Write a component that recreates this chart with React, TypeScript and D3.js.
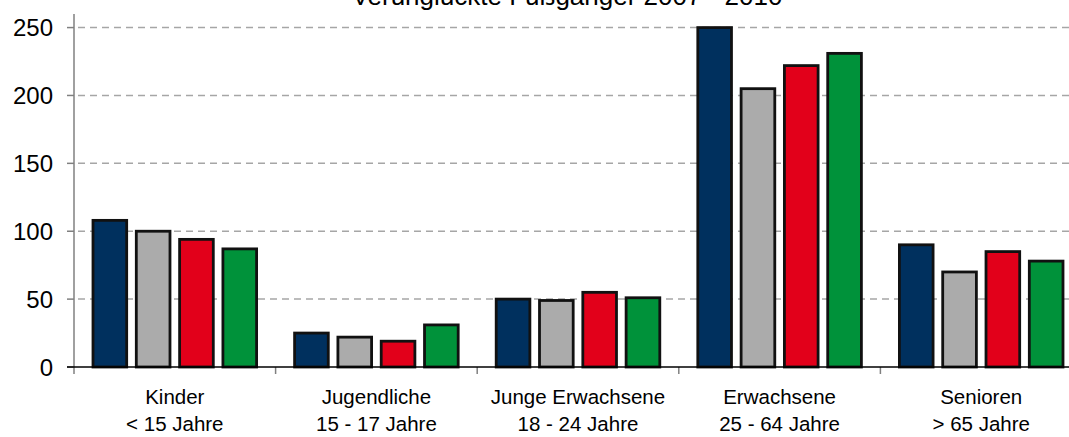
import React from "react";
import * as d3 from "d3";

const categories = [
  ["Kinder", "< 15 Jahre"],
  ["Jugendliche", "15 - 17 Jahre"],
  ["Junge Erwachsene", "18 - 24 Jahre"],
  ["Erwachsene", "25 - 64 Jahre"],
  ["Senioren", "> 65 Jahre"],
];
const seriesNames = ["2007", "2008", "2009", "2010"];
const seriesColors = ["#00305E", "#ABABAB", "#E2001A", "#00923A"];
const values2007 = [108, 25, 50, 250, 90];
const values2008 = [100, 22, 49, 205, 70];
const values2009 = [94, 19, 55, 222, 85];
const values2010 = [87, 31, 51, 231, 78];
const yTicks = [0, 50, 100, 150, 200, 250];
const title = "Verunglückte Fußgänger 2007 - 2010";

const W = 1069;
const H = 437;
const left = 74;
const right = 1082;
const top = 14;
const bottom = 367;

export default function App() {
  const series = [values2007, values2008, values2009, values2010];
  const keys = categories.map((c) => c[0]);
  const x0 = d3.scaleBand<string>().domain(keys).range([left, right]).padding(0);
  const x1 = d3
    .scaleBand<string>()
    .domain(seriesNames)
    .range([18, x0.bandwidth() - 18])
    .paddingInner(0.176)
    .paddingOuter(0);
  const y = d3.scaleLinear().domain([0, 260]).range([bottom, top]);
  const font = "'Liberation Sans', Arial, sans-serif";

  return (
    <svg
      width={W}
      height={H}
      style={{ position: "absolute", left: 0, top: 0, background: "#fff" }}
      fontFamily={font}
    >
      <text x={567} y={5} textAnchor="middle" fontSize={26} fill="#000">
        {title}
      </text>
      {yTicks
        .filter((t) => t > 0)
        .map((t) => (
          <line
            key={"g" + t}
            x1={left + 4}
            x2={W}
            y1={y(t)}
            y2={y(t)}
            stroke="#A6A6A6"
            strokeWidth={1.5}
            strokeDasharray="7,5"
          />
        ))}
      {categories.map((c, i) =>
        series.map((s, j) => {
          const bx = (x0(keys[i]) as number) + (x1(seriesNames[j]) as number);
          const bw = x1.bandwidth();
          return (
            <rect
              key={i + "-" + j}
              x={bx + 1}
              y={y(s[i])}
              width={bw - 2}
              height={bottom - y(s[i])}
              fill={seriesColors[j]}
              stroke="#111"
              strokeWidth={2.8}
            />
          );
        })
      )}
      {/* y axis */}
      <line x1={left} x2={left} y1={top} y2={bottom + 7} stroke="#808080" strokeWidth={1.5} />
      {yTicks.map((t) => (
        <g key={"t" + t}>
          <line x1={left - 7} x2={left} y1={y(t)} y2={y(t)} stroke="#808080" strokeWidth={1.5} />
          <text x={53} y={y(t)} dy="0.36em" textAnchor="end" fontSize={24} fill="#000">
            {t}
          </text>
        </g>
      ))}
      {/* x axis */}
      {keys.map((k, i) => (
        <line
          key={"xt" + i}
          x1={(x0(k) as number) + x0.bandwidth()}
          x2={(x0(k) as number) + x0.bandwidth()}
          y1={bottom}
          y2={bottom + 7}
          stroke="#808080"
          strokeWidth={1.5}
        />
      ))}
      <line x1={left - 7} x2={W} y1={bottom} y2={bottom} stroke="#000" strokeWidth={1.5} />
      {categories.map((c, i) => {
        const cx = (x0(keys[i]) as number) + x0.bandwidth() / 2;
        return (
          <text key={"c" + i} textAnchor="middle" fontSize={20.5} fill="#000">
            <tspan x={cx} y={404}>
              {c[0]}
            </tspan>
            <tspan x={cx} y={431}>
              {c[1]}
            </tspan>
          </text>
        );
      })}
    </svg>
  );
}
